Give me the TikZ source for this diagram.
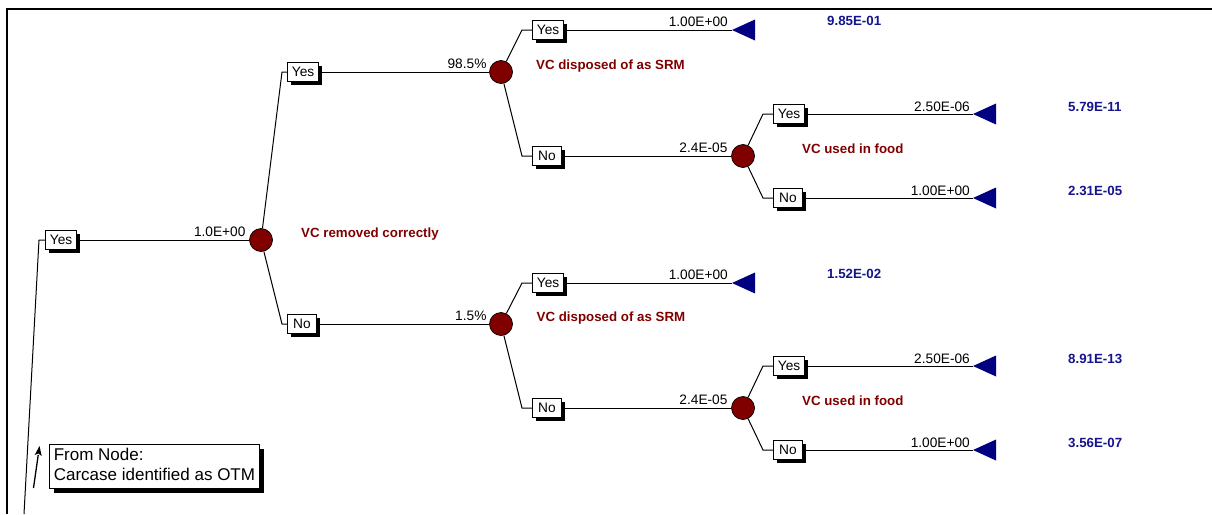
\documentclass[tikz,border=0pt]{standalone}
\usepackage{fontspec}
\setmainfont{Liberation Sans}
\usetikzlibrary{shadows,arrows.meta}
\definecolor{maroonc}{RGB}{128,0,0}
\definecolor{navyc}{RGB}{0,0,128}
\definecolor{labred}{RGB}{128,0,0}
\definecolor{resblue}{RGB}{20,20,140}
\begin{document}
\begin{tikzpicture}[x=1pt,y=-1pt,
 conn/.style={line width=1pt},
 choice/.style={draw, fill=white, line width=0.9pt, inner xsep=4.5pt, inner ysep=0pt,
   minimum height=19pt, minimum width=29pt, anchor=west,
   font=\fontsize{13.7pt}{16pt}\selectfont,
   drop shadow={shadow xshift=3.5pt,shadow yshift=-3.5pt,fill=black,opacity=1}},
 chance/.style={circle, draw, fill=maroonc, line width=0.7pt, minimum size=23pt, inner sep=0pt},
 prob/.style={anchor=base east, inner sep=0pt, font=\fontsize{13.7pt}{16pt}\selectfont},
 evlabel/.style={anchor=base west, inner sep=0pt, text=labred, font=\bfseries\fontsize{13.3pt}{16pt}\selectfont},
 result/.style={anchor=base west, inner sep=0pt, text=resblue, font=\bfseries\fontsize{13.3pt}{16pt}\selectfont},
 fromnode/.style={draw, fill=white, line width=0.9pt, anchor=north west, align=left,
   inner xsep=3.5pt, inner ysep=3.5pt, minimum width=210pt,
   font=\fontsize{17pt}{20pt}\selectfont,
   drop shadow={shadow xshift=4.5pt,shadow yshift=-4.5pt,fill=black,opacity=1}},
 term/.pic={\fill[navyc] (0,0) -- (23,-10.5) -- (23,10.5) -- cycle;}
]
\useasboundingbox (0,0) rectangle (1212,514);
% frame
\draw[line width=2pt] (7,514) -- (7,9.3) -- (1212,9.3);

% nodes
\coordinate (start) at (24,514);
\node[choice] (y0) at (45,240) {Yes};
\node[chance] (R) at (261,240) {};
\node[choice] (y1) at (287,72) {Yes};
\node[choice] (n1) at (287,324) {No};
\node[chance] (A) at (501,72) {};
\node[chance] (B) at (501,324) {};
\node[choice] (ay) at (532,30) {Yes};
\node[choice] (an) at (532,156) {No};
\node[choice] (by) at (532,283) {Yes};
\node[choice] (bn) at (532,408) {No};
\node[chance] (C) at (743,156) {};
\node[chance] (D) at (743,408) {};
\node[choice] (cy) at (773,114) {Yes};
\node[choice] (cn) at (773,198) {No};
\node[choice] (dy) at (773,366) {Yes};
\node[choice] (dn) at (773,450) {No};
\coordinate (ta) at (732,30);
\coordinate (tb) at (732,283);
\coordinate (tcy) at (973,114);
\coordinate (tcn) at (973,198);
\coordinate (tdy) at (973,366);
\coordinate (tdn) at (973,450);
\foreach \t in {ta,tb,tcy,tcn,tdy,tdn} { \pic at (\t) {term}; }

% connectors
\draw[conn] (start) -- ([xshift=-6pt]y0.west) -- (y0.west);
\draw[conn] (y0.east) -- (R);
\draw[conn] (R) -- ([xshift=-5pt]y1.west) -- (y1.west);
\draw[conn] (R) -- ([xshift=-5pt]n1.west) -- (n1.west);
\draw[conn] (y1.east) -- (A);
\draw[conn] (n1.east) -- (B);
\draw[conn] (A) -- ([xshift=-10pt]ay.west) -- (ay.west);
\draw[conn] (A) -- ([xshift=-10pt]an.west) -- (an.west);
\draw[conn] (B) -- ([xshift=-10pt]by.west) -- (by.west);
\draw[conn] (B) -- ([xshift=-10pt]bn.west) -- (bn.west);
\draw[conn] (ay.east) -- (ta);
\draw[conn] (by.east) -- (tb);
\draw[conn] (an.east) -- (C);
\draw[conn] (bn.east) -- (D);
\draw[conn] (C) -- ([xshift=-10pt]cy.west) -- (cy.west);
\draw[conn] (C) -- ([xshift=-10pt]cn.west) -- (cn.west);
\draw[conn] (D) -- ([xshift=-10pt]dy.west) -- (dy.west);
\draw[conn] (D) -- ([xshift=-10pt]dn.west) -- (dn.west);
\draw[conn] (cy.east) -- (tcy);
\draw[conn] (cn.east) -- (tcn);
\draw[conn] (dy.east) -- (tdy);
\draw[conn] (dn.east) -- (tdn);

% probabilities
\node[prob] at ([xshift=-3.5pt,yshift=3.3pt]R.west) {1.0E+00};
\node[prob] at ([xshift=-2.5pt,yshift=3.3pt]A.west) {98.5\%};
\node[prob] at ([xshift=-2.5pt,yshift=3.3pt]B.west) {1.5\%};
\node[prob] at ([xshift=-3.5pt,yshift=3.8pt]C.west) {2.4E-05};
\node[prob] at ([xshift=-3.5pt,yshift=3.8pt]D.west) {2.4E-05};
\node[prob] at ([xshift=-4pt,yshift=3.8pt]ta) {1.00E+00};
\node[prob] at ([xshift=-4pt,yshift=3.8pt]tb) {1.00E+00};
\node[prob] at ([xshift=-3pt,yshift=3pt]tcy) {2.50E-06};
\node[prob] at ([xshift=-3pt,yshift=3pt]tcn) {1.00E+00};
\node[prob] at ([xshift=-3pt,yshift=3pt]tdy) {2.50E-06};
\node[prob] at ([xshift=-3pt,yshift=3pt]tdn) {1.00E+00};

% event labels
\node[evlabel] (lr) at (301,237.5) {VC removed correctly};
\node[evlabel] (la) at (536,69) {VC disposed of as SRM};
\node[evlabel] (lb) at (536.5,321.5) {VC disposed of as SRM};
\node[evlabel] (lc) at (802,153) {VC used in food};
\node[evlabel] (ld) at (802,405) {VC used in food};

% results
\node[result] (r1) at (827,25) {9.85E-01};
\node[result] (r2) at (1068,111.5) {5.79E-11};
\node[result] (r3) at (1068,195.5) {2.31E-05};
\node[result] (r4) at (827,278.5) {1.52E-02};
\node[result] (r5) at (1068,363) {8.91E-13};
\node[result] (r6) at (1068,447) {3.56E-07};

% from node
\node[fromnode] (fn) at (49,444) {From Node:\\Carcase identified as OTM\rule[-5pt]{0pt}{0pt}};
\coordinate (ab) at (33.5,488);
\coordinate (at) at (39.5,446);
\coordinate (abase) at (38.2,455);
\draw[line width=1.3pt] (ab) -- (abase);
\fill (at) -- (41.7,456) -- (38.3,453.5) -- (34.7,455) -- cycle;
\end{tikzpicture}
\end{document}
